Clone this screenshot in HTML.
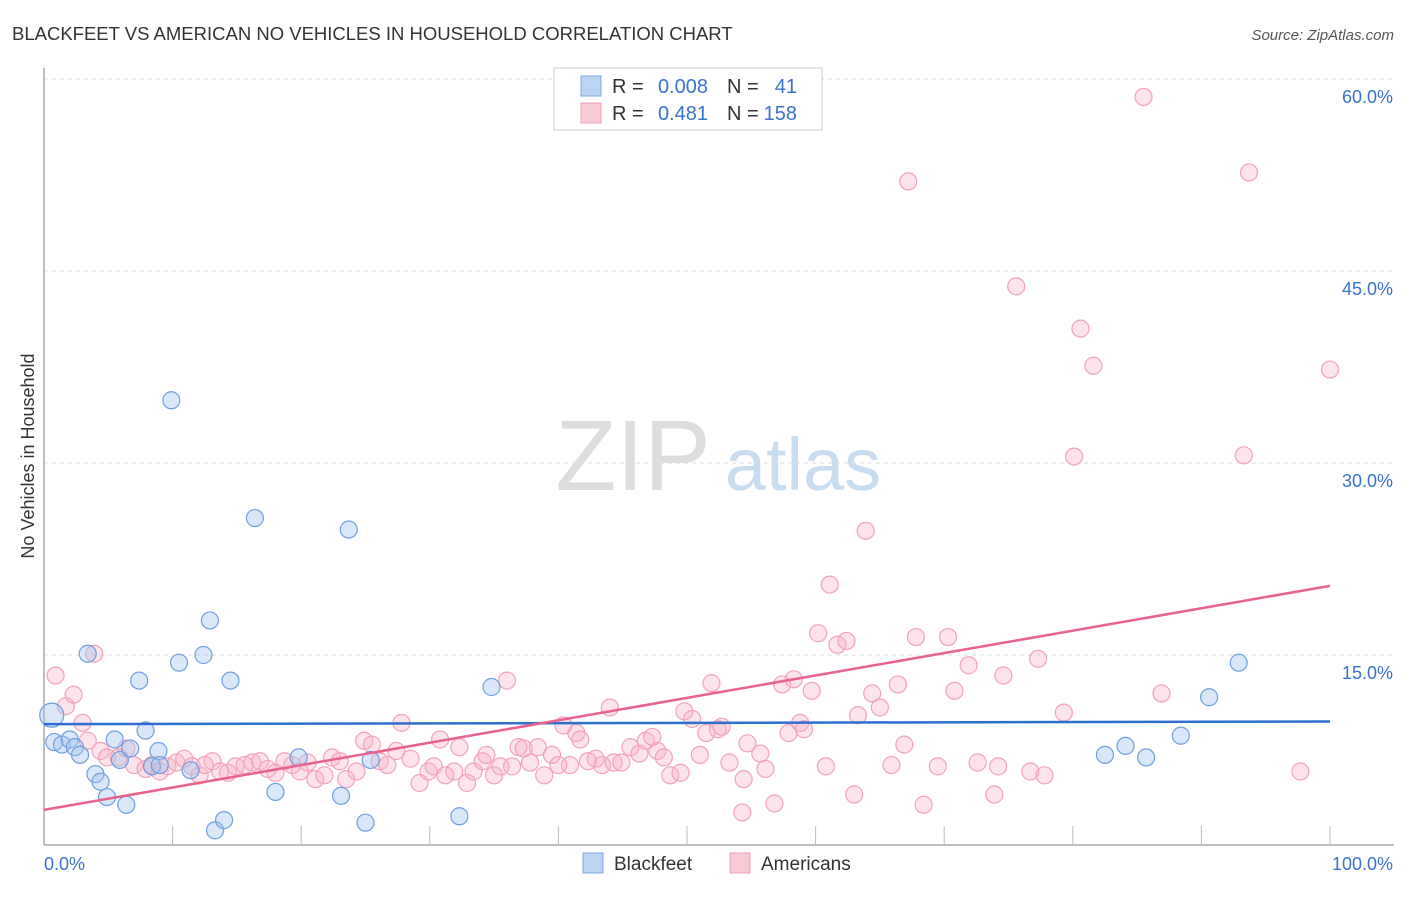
<!DOCTYPE html>
<html><head><meta charset="utf-8"><style>
body{margin:0;background:#fff;font-family:"Liberation Sans",sans-serif;}
svg text{font-family:"Liberation Sans",sans-serif;}
</style></head><body>
<svg id="chart" width="1406" height="892" xmlns="http://www.w3.org/2000/svg">
<text x="12" y="40" font-size="18.5" fill="#333">BLACKFEET VS AMERICAN NO VEHICLES IN HOUSEHOLD CORRELATION CHART</text>
<text x="1394" y="40" font-size="15" fill="#555" text-anchor="end" font-style="italic">Source: ZipAtlas.com</text>
<text x="34" y="456" font-size="18" fill="#333" text-anchor="middle" transform="rotate(-90 34 456)">No Vehicles in Household</text>
<g><text x="633" y="490" font-size="100" fill="#ddd" font-family="Liberation Serif" text-anchor="middle">ZIP</text><text x="803" y="490" font-size="74" fill="#c8dcf0" text-anchor="middle">atlas</text></g>
<g id="grid"></g><g id="axes"></g><g id="pts"></g><g id="lines"></g>
<g>
<rect x="554" y="68" width="268" height="62" fill="#fff" stroke="#ccc"/>
<rect x="581" y="76" width="20" height="20" fill="#bcd4f4" stroke="#7aa8e0"/>
<rect x="581" y="103" width="20" height="20" fill="#f9c9d6" stroke="#f0a0b8"/>
<text x="612" y="93" font-size="20" fill="#333">R =</text><text x="708" y="93" font-size="20" fill="#3a72d0" text-anchor="end">0.008</text>
<text x="727" y="93" font-size="20" fill="#333">N =</text><text x="797" y="93" font-size="20" fill="#3a72d0" text-anchor="end">41</text>
<text x="612" y="120" font-size="20" fill="#333">R =</text><text x="708" y="120" font-size="20" fill="#3a72d0" text-anchor="end">0.481</text>
<text x="727" y="120" font-size="20" fill="#333">N =</text><text x="797" y="120" font-size="20" fill="#3a72d0" text-anchor="end">158</text>
</g>
<g>
<rect x="583" y="853" width="20" height="20" fill="#bcd4f4" stroke="#7aa8e0"/><text x="614" y="870" font-size="19" fill="#333">Blackfeet</text>
<rect x="730" y="853" width="20" height="20" fill="#f9c9d6" stroke="#f0a0b8"/><text x="761" y="870" font-size="19" fill="#333">Americans</text>
</g>
</svg>
<script>
const yTicks=[15,30,45,60];
const xTickLabels=["0.0%","100.0%"];
const blueX=[0.6,0.8,1.4,2.0,2.4,2.8,3.4,4.0,4.4,4.9,5.5,5.9,6.4,6.7,7.4,7.9,8.4,8.9,9.0,9.9,10.5,11.4,12.4,12.9,13.3,14.0,14.5,16.4,18.0,19.8,23.1,23.7,25.0,25.4,32.3,34.8,82.5,84.1,85.7,88.4,90.6,92.9];
const blueY=[10.3,8.2,8.0,8.4,7.8,7.2,15.1,5.7,5.1,3.9,8.4,6.8,3.3,7.7,13.0,9.1,6.3,7.5,6.4,34.9,14.4,6.0,15.0,17.7,1.3,2.1,13.0,25.7,4.3,7.0,4.0,24.8,1.9,6.8,2.4,12.5,7.2,7.9,7.0,8.7,11.7,14.4];
const pinkX=[0.9,1.7,2.3,3.0,3.4,3.9,4.4,4.9,5.8,6.4,7.0,7.9,8.4,9.0,9.6,10.3,10.9,11.5,12.1,12.5,13.1,13.7,14.3,14.9,15.6,16.2,16.8,17.4,18.0,18.7,19.3,19.9,20.5,21.1,21.8,22.4,23.0,23.5,24.3,24.9,25.5,26.1,26.7,27.4,27.8,28.5,29.2,29.9,30.3,30.8,31.2,31.9,32.3,32.9,33.4,34.1,34.4,35.0,35.5,36.0,36.4,36.9,37.3,37.8,38.4,38.9,39.5,40.0,40.4,40.9,41.4,41.7,42.3,42.9,43.4,44.0,44.3,44.9,45.6,46.3,46.8,47.3,47.7,48.2,48.7,49.5,49.8,50.4,51.0,51.5,51.9,52.4,52.7,53.3,54.3,54.4,54.7,55.7,56.1,56.8,57.4,57.9,58.3,58.8,59.1,59.7,60.2,60.8,61.1,61.7,62.4,63.0,63.3,63.9,64.4,65.0,65.9,66.4,66.9,67.2,67.8,68.4,69.5,70.3,70.8,71.9,72.6,73.9,74.2,74.6,75.6,76.7,77.3,77.8,79.3,80.1,80.6,81.6,85.5,86.9,93.3,93.7,97.7,100];
const pinkY=[13.4,11.0,11.9,9.7,8.3,15.1,7.5,7.0,7.0,7.7,6.4,6.1,6.4,5.9,6.3,6.6,6.9,6.3,5.6,6.4,6.7,5.9,5.8,6.3,6.4,6.6,6.7,6.1,5.8,6.7,6.4,5.9,6.6,5.3,5.6,7.0,6.7,5.3,5.9,8.3,8.0,6.7,6.4,7.5,9.7,6.9,5.0,5.9,6.3,8.4,5.6,5.9,7.8,5.0,5.9,6.7,7.2,5.6,6.3,13.0,6.3,7.8,7.7,6.6,7.8,5.6,7.2,6.4,9.5,6.4,8.9,8.4,6.7,6.9,6.4,10.9,6.6,6.6,7.8,7.3,8.3,8.6,7.5,7.0,5.6,5.8,10.6,10.0,7.2,8.9,12.8,9.2,9.4,6.6,2.7,5.3,8.1,7.3,6.1,3.4,12.7,8.9,13.1,9.7,9.2,12.2,16.7,6.3,20.5,15.8,16.1,4.1,10.3,24.7,12.0,10.9,6.4,12.7,8.0,52.0,16.4,3.3,6.3,16.4,12.2,14.2,6.6,4.1,6.3,13.4,43.8,5.9,14.7,5.6,10.5,30.5,40.5,37.6,58.6,12.0,30.6,52.7,5.9,37.3];
const blueFit=[9.6,9.8];
const pinkFit=[2.9,20.4];
const X0=44,X1=1330,Y0=847,PPY=12.8;
const sx=v=>X0+(X1-X0)*v/100, sy=v=>Y0-v*PPY;
const NS="http://www.w3.org/2000/svg";
function mk(t,a,p){const e=document.createElementNS(NS,t);for(const k in a)e.setAttribute(k,a[k]);p.appendChild(e);return e;}
const grid=document.getElementById('grid'),axes=document.getElementById('axes'),pts=document.getElementById('pts'),lines=document.getElementById('lines');
yTicks.forEach(v=>{
 const l=mk('line',{x1:44,x2:1394,y1:sy(v),y2:sy(v),stroke:'#ddd','stroke-dasharray':'4,4'},grid);
 
 
 const t=mk('text',{x:1393,y:sy(v)+24,'font-size':18,fill:'#3a72d0','text-anchor':'end'},axes);
 t.textContent=v.toFixed(1)+'%';
 
 
});
const tl=mk('line',{x1:44,x2:1394,y1:79,y2:79,stroke:'#ddd','stroke-dasharray':'4,4'},grid);


const ya=mk('line',{x1:44,x2:44,y1:68,y2:845,stroke:'#aaa','stroke-width':1.5},axes);


const xa=mk('line',{x1:44,x2:1394,y1:845,y2:845,stroke:'#aaa','stroke-width':1.5},axes);


for(let i=1;i<=10;i++){const t=mk('line',{x1:sx(i*10),x2:sx(i*10),y1:826,y2:845,stroke:'#bbb'},axes);
 
 }
const l0=mk('text',{x:44,y:870,'font-size':18,fill:'#3a72d0'},axes);l0.textContent=xTickLabels[0];


const l1=mk('text',{x:1393,y:870,'font-size':18,fill:'#3a72d0','text-anchor':'end'},axes);l1.textContent=xTickLabels[1];


pinkX.forEach((x,i)=>{const c=mk('circle',{cx:sx(x),cy:sy(pinkY[i]),r:8.5,fill:'rgba(248,175,198,0.35)',stroke:'#f2a3bb','stroke-width':1.2},pts);
 
 });
blueX.forEach((x,i)=>{const c=mk('circle',{cx:sx(x),cy:sy(blueY[i]),r:i==0?12:8.5,fill:'rgba(160,195,240,0.4)',stroke:'#6f9fe0','stroke-width':1.2},pts);
 
 });
const bl=mk('line',{x1:sx(0),x2:sx(100),y1:sy(blueFit[0]),y2:sy(blueFit[1]),stroke:'#2f6fd0','stroke-width':2.5},lines);


const pl=mk('line',{x1:sx(0),x2:sx(100),y1:sy(pinkFit[0]),y2:sy(pinkFit[1]),stroke:'#e8628c','stroke-width':2.5},lines);


</script>
</body></html>
